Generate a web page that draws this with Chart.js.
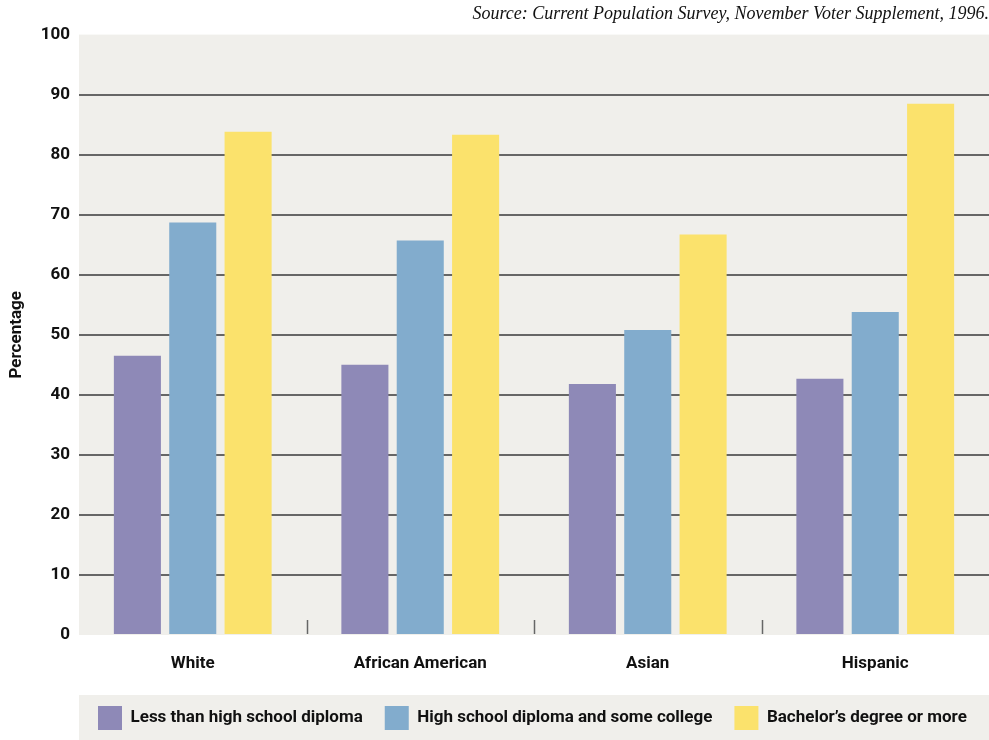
<!DOCTYPE html>
<html>
<head>
<meta charset="utf-8">
<title>Voter turnout by education</title>
<script src="https://cdn.jsdelivr.net/npm/chart.js@4/dist/chart.umd.min.js"></script>
<style>
    html, body { margin: 0; padding: 0; background: #FFFFFF; }
    #wrap { width: 989px; height: 740px; position: relative; }
</style>
</head>
<body>
<div id="wrap"><canvas id="turnout-chart"></canvas></div>
<script>
// ── Data ──────────────────────────────────────────────────
const categories   = ['White', 'African American', 'Asian', 'Hispanic'];
const seriesLabels = ['Less than high school diploma', 'High school diploma and some college', 'Bachelor\u2019s degree or more'];
const lessThanHS   = [46.5, 45.0, 41.8, 42.7];
const hsSomeCollege = [68.7, 65.7, 50.8, 53.8];
const bachelorPlus = [83.8, 83.3, 66.7, 88.5];
const yTicks       = [0, 10, 20, 30, 40, 50, 60, 70, 80, 90, 100];

const colors = ['#8E89B7', '#82ACCD', '#FBE26C'];
const PLOT_BG = '#F0EFEB';
const LINE = '#666666';
const FONT = "Roboto, 'Liberation Sans', sans-serif";
const LEGEND_PAD = 22;
const LEGEND_BAND = 45;

Chart.defaults.font.family = FONT;
Chart.defaults.color = '#111111';

// ── Plugins: plot background, category marks, legend band ─
const plotBg = {
    id: 'plotBg',
    beforeDraw(chart) {
        const { ctx, chartArea: a, legend } = chart;
        ctx.save();
        ctx.fillStyle = PLOT_BG;
        ctx.fillRect(a.left, a.top, a.right - a.left, a.bottom - a.top);
        // legend band
        ctx.fillRect(a.left, legend.bottom - LEGEND_BAND, a.right - a.left, LEGEND_BAND);
        ctx.restore();
    },
    beforeDatasetsDraw(chart) {
        const { ctx, chartArea: a } = chart;
        const xs = chart.scales.x;
        ctx.save();
        ctx.strokeStyle = LINE;
        ctx.lineWidth = 1.5;
        for (let i = 1; i < categories.length; i++) {
            const x = Math.round((xs.getPixelForValue(i - 1) + xs.getPixelForValue(i)) / 2) + 0.5;
            ctx.beginPath();
            ctx.moveTo(x, a.bottom - 15);
            ctx.lineTo(x, a.bottom - 1);
            ctx.stroke();
        }
        ctx.restore();
    },
    afterLayout(chart) {
        // legend row starts a little inside the band, one line, no wrap
        const lg = chart.legend;
        const startX = chart.chartArea.left + 19;
        lg.right = chart.width + 80;
        lg.left = 2 * startX - LEGEND_PAD - lg.right + lg.lineWidths[0];
    }
};

// ── Chart ─────────────────────────────────────────────────
const data = [lessThanHS, hsSomeCollege, bachelorPlus];

new Chart(document.getElementById('turnout-chart'), {
    type: 'bar',
    data: {
        labels: categories,
        datasets: seriesLabels.map((label, i) => ({
            label: label,
            data: data[i],
            backgroundColor: colors[i],
            borderWidth: 0,
            categoryPercentage: 0.73,
            barPercentage: 0.85,
        }))
    },
    options: {
        responsive: true,
        maintainAspectRatio: false,
        animation: false,
        layout: { padding: 0 },
        plugins: {
            tooltip: { enabled: false },
            title: {
                display: true,
                text: 'Source: Current Population Survey, November Voter Supplement, 1996.',
                align: 'end',
                color: '#111111',
                font: { family: "'Liberation Serif', 'DejaVu Serif', serif", size: 18, style: 'italic', weight: 'normal' },
                padding: { top: 3, bottom: 10 }
            },
            legend: {
                position: 'bottom',
                labels: {
                    boxWidth: 24,
                    boxHeight: 24,
                    padding: LEGEND_PAD,
                    color: '#111111',
                    font: { size: 17, weight: 'bold' }
                }
            }
        },
        scales: {
            x: {
                grid: { display: false },
                border: { display: false },
                ticks: { padding: 11, font: { size: 17, weight: 'bold' }, color: '#111111' },
                afterFit: s => { s.height = 49; }
            },
            y: {
                min: 0,
                max: 100,
                afterBuildTicks: s => { s.ticks = yTicks.map(v => ({ value: v })); },
                afterFit: s => { s.width = 79; },
                border: { display: false },
                grid: {
                    drawTicks: false,
                    lineWidth: 2,
                    color: c => (c.tick.value === 0 || c.tick.value === 100) ? 'rgba(0,0,0,0)' : LINE
                },
                ticks: { padding: 9, font: { size: 17, weight: 'bold' }, color: '#111111' },
                title: {
                    display: true,
                    text: 'Percentage',
                    color: '#111111',
                    font: { size: 17, weight: 'bold' },
                    padding: { top: 7, bottom: 0 }
                }
            }
        }
    },
    plugins: [plotBg]
});
</script>
</body>
</html>
